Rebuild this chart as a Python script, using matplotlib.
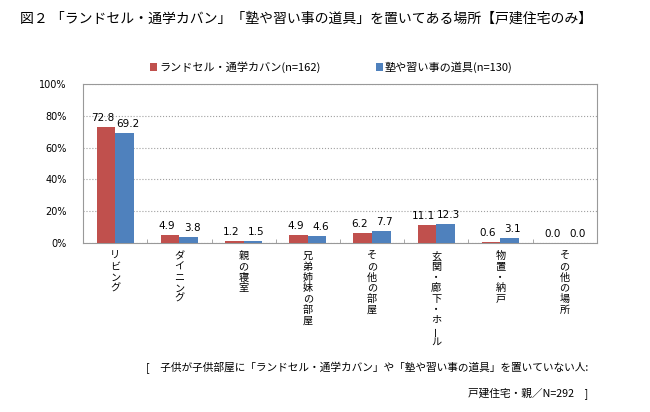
import numpy as np
import matplotlib.pyplot as plt

plt.rcParams['font.family'] = ['Noto Sans CJK JP', 'DejaVu Sans']

# データ
categories = ['リビング', 'ダイニング', '親の寝室', '兄弟姉妹の部屋',
              'その他の部屋', '玄関・廊下・ホール', '物置・納戸', 'その他の場所']
randoseru = [72.8, 4.9, 1.2, 4.9, 6.2, 11.1, 0.6, 0.0]
juku = [69.2, 3.8, 1.5, 4.6, 7.7, 12.3, 3.1, 0.0]
series_names = ['ランドセル・通学カバン(n=162)', '塾や習い事の道具(n=130)']
yticks = [0, 20, 40, 60, 80, 100]

red = '#C0504D'
blue = '#4F81BD'

fig = plt.figure(figsize=(6.5, 4.12), dpi=100)
ax = fig.add_axes([0.128, 0.410, 0.790, 0.386])

x = np.arange(len(categories))
w = 0.29
b1 = ax.bar(x - w / 2, randoseru, w, color=red, label=series_names[0], zorder=3)
b2 = ax.bar(x + w / 2, juku, w, color=blue, label=series_names[1], zorder=3)

for xi, v in zip(x, randoseru):
    ax.text(xi - w / 2 - 0.05, v + 2.5, f'{v:.1f}', ha='center', va='bottom', fontsize=7.5,
            family=['DejaVu Sans'])
for xi, v in zip(x, juku):
    ax.text(xi + w / 2 + 0.05, v + 2.5, f'{v:.1f}', ha='center', va='bottom', fontsize=7.5,
            family=['DejaVu Sans'])

ax.set_xlim(-0.5, len(categories) - 0.5)
ax.set_ylim(0, 100)
ax.set_yticks(yticks)
ax.set_yticklabels([f'{t}%' for t in yticks], fontsize=7, family=['DejaVu Sans'])
ax.yaxis.grid(True, linestyle=':', color='#A0A0A0', linewidth=0.8, zorder=0)
ax.tick_params(axis='y', length=0, pad=12)

# 縦書きラベル（1文字ずつ縦に並べる）
ax.set_xticks(x)
ax.set_xticklabels([''] * len(categories))
ax.tick_params(axis='x', length=0)
for xi, name in zip(x, categories):
    for i, ch in enumerate(name):
        ax.annotate(ch, xy=(xi, 0), xycoords=('data', 'axes fraction'),
                    xytext=(0, -9.5 - i * 7.7), textcoords='offset points',
                    ha='center', va='center', fontsize=7.3,
                    rotation=90 if ch == 'ー' else 0)

ax.set_xticks(np.arange(len(categories) + 1) - 0.5, minor=True)
ax.tick_params(axis='x', which='minor', length=3, direction='in', color='#999999')

for sp in ax.spines.values():
    sp.set_color('#999999')

fig.text(0.03, 0.955, '図２ 「ランドセル・通学カバン」「塾や習い事の道具」を置いてある場所【戸建住宅のみ】',
         fontsize=10, ha='left', va='center')

fig.legend(handles=[b1, b2], labels=series_names, loc='center', bbox_to_anchor=(0.51, 0.837),
           ncol=2, frameon=False, fontsize=8, handlelength=0.6, handleheight=0.6,
           handletextpad=0.2, columnspacing=5)

fig.text(0.905, 0.108, '[　子供が子供部屋に「ランドセル・通学カバン」や「塾や習い事の道具」を置いていない人:',
         fontsize=7.7, ha='right', va='center')
fig.text(0.905, 0.045, '戸建住宅・親／N=292　]', fontsize=7.7, ha='right', va='center')

fig.savefig('out.png', dpi=100)
